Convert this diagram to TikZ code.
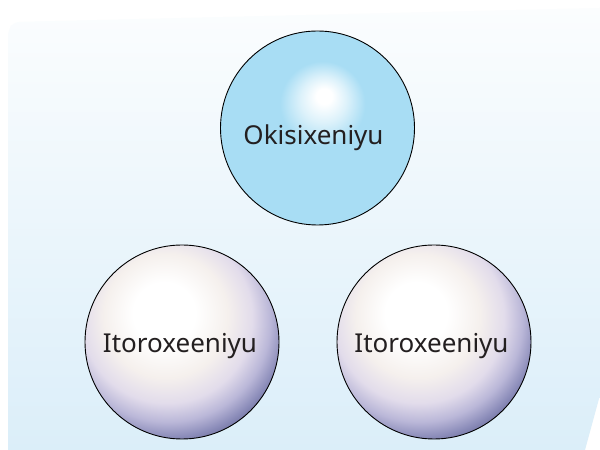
\documentclass[tikz,border=0pt]{standalone}
\usepackage{fontspec}
\setmainfont{Noto Sans}
\usetikzlibrary{positioning}

\definecolor{skyball}{RGB}{168,221,244}
\definecolor{pearllight}{RGB}{245,240,237}
\definecolor{pearlmid}{RGB}{226,220,235}
\definecolor{pearlshade}{RGB}{186,183,216}
\definecolor{pearldeep}{RGB}{140,141,186}
\definecolor{pearldark}{RGB}{104,106,154}
\definecolor{bgtop}{RGB}{251,253,254}
\definecolor{bgmid}{RGB}{237,246,252}
\definecolor{bgbottom}{RGB}{219,238,249}
\definecolor{labelink}{RGB}{35,31,32}

% path box = central 50bp, so the rim sits at 25bp
\pgfdeclareradialshading{skyshade}{\pgfqpoint{1.8bp}{8.6bp}}{color(0bp)=(white); color(2bp)=(white); color(6bp)=(skyball!40!white); color(11bp)=(skyball); color(40bp)=(skyball)}
\pgfdeclareradialshading{pearlshade}{\pgfqpoint{-5bp}{8bp}}{color(0bp)=(white); color(8bp)=(white); color(16bp)=(pearllight); color(22bp)=(pearlmid); color(26.5bp)=(pearlshade); color(30bp)=(pearldeep); color(33bp)=(pearldark); color(100bp)=(pearldark)}

\begin{document}
\begin{tikzpicture}[x=1pt, y=1pt,
    sphere/.style={circle, draw=black, line width=0.9pt, minimum size=194pt, inner sep=0pt, shade},
    sphere text/.style={anchor=base, text=labelink, font=\fontsize{26}{30}\selectfont}]
    % Page and paper background
    \fill[white] (0,0) rectangle (600,450);
    \shade[top color=bgtop, middle color=bgmid, bottom color=bgbottom]
        (8,0) [rounded corners=6pt] -- (8,420) -- (14,428) [sharp corners] -- (600,442) -- (600,55) -- (585,0) -- cycle;
    \useasboundingbox (0,0) rectangle (600,450);

    % Spheres
    \node[sphere, shading=skyshade] (oxy) at (317.5,322) {};
    \node[sphere, shading=pearlshade] (hydleft) at (182,108) {};
    \node[sphere, shading=pearlshade] (hydright) at (434,108) {};

    % Names
    \node[sphere text] (oxytext) at ([shift={(-4,-17)}]oxy.center) {Okisixeniyu};
    \node[sphere text] (hydlefttext) at ([shift={(-2,-11)}]hydleft.center) {Itoroxeeniyu};
    \node[sphere text] (hydrighttext) at ([shift={(-2.5,-11)}]hydright.center) {Itoroxeeniyu};
\end{tikzpicture}
\end{document}
